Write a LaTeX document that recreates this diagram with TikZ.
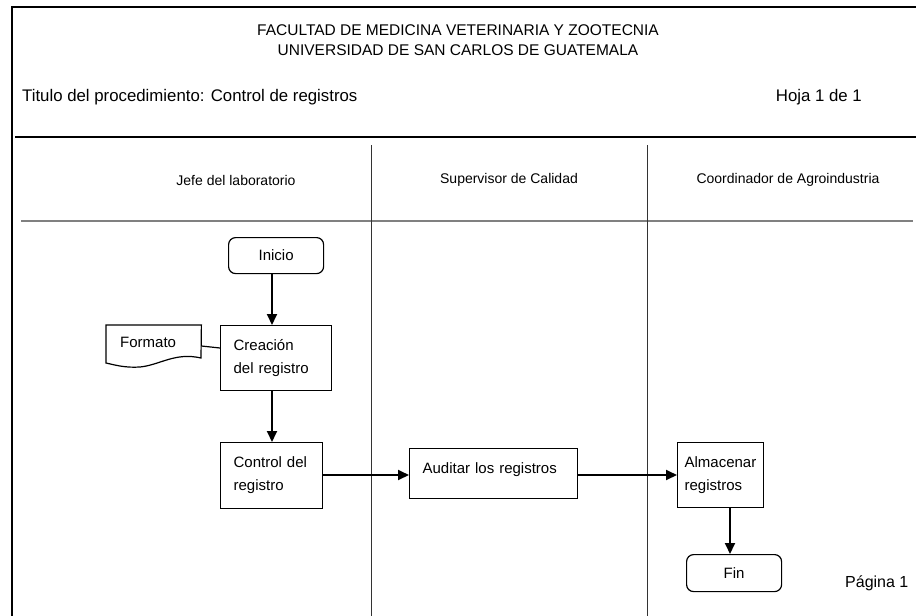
\documentclass[tikz,border=0pt]{standalone}
\usepackage{fontspec}
\setmainfont{Liberation Sans}
\usetikzlibrary{arrows.meta}
\begin{document}
\begin{tikzpicture}[x=1pt,y=-1pt,
  frame/.style={line width=2.4pt},
  lane/.style={line width=0.8pt,black!80},
  boxfont/.style={font=\fontsize{15}{23}\selectfont},
  procbox/.style={draw,line width=1.2pt,rectangle,anchor=north west,align=left,inner xsep=13pt,boxfont},
  termbox/.style={draw,line width=1.2pt,rectangle,rounded corners=7pt,anchor=north west,align=center,boxfont},
  flow/.style={line width=1.8pt,-{Triangle[length=11pt,width=10pt]}},
  hdr/.style={font=\fontsize{15.5}{18}\selectfont},
  ttl/.style={font=\fontsize{16.8}{20}\selectfont},
  lanehdr/.style={font=\fontsize{14}{16}\selectfont}]
\useasboundingbox (0,0) rectangle (916,616);
% frame
\draw[frame] (12,616) -- (12,7) -- (916,7);
\draw[frame] (15,137) -- (916,137);
\draw[line width=2.2pt,black!50] (21,221) -- (913,221);
\draw[lane] (371,145) -- (371,616);
\draw[lane] (647,145) -- (647,616);
% header texts
\node[hdr] (t1) at (458,30) {FACULTAD DE MEDICINA VETERINARIA Y ZOOTECNIA};
\node[hdr] (t2) at (458,50) {UNIVERSIDAD DE SAN CARLOS DE GUATEMALA};
\node[ttl,anchor=west,inner xsep=0pt] (t3) at (22,97) {Titulo del procedimiento: Control de registros};
\node[ttl,anchor=east,inner xsep=0pt] (t4) at (862,97) {Hoja 1 de 1};
\node[lanehdr] (l1) at (236,180) {Jefe del laboratorio};
\node[lanehdr] (l2) at (509,180) {Supervisor de Calidad};
\node[lanehdr] (l3) at (788,180) {Coordinador de Agroindustria};
\node[font=\fontsize{16}{18}\selectfont,anchor=west,inner xsep=0pt] (pg) at (845,583) {Página 1};
% nodes
\node[termbox,minimum width=95pt,minimum height=36pt] (ini) at (228,237) {Inicio};
\node[procbox,minimum width=111pt,minimum height=65pt,text width=85pt] (cre) at (220,325) {Creación\\del registro};
\node[procbox,minimum width=102pt,minimum height=66pt,text width=76pt] (ctl) at (220,442) {Control del\\registro};
\node[procbox,minimum width=168pt,minimum height=50pt,text width=142pt,text depth=11pt] (aud) at (409,448) {Auditar los registros};
\node[procbox,minimum width=85pt,minimum height=65pt,text width=72pt,inner xsep=7pt] (alm) at (677,442) {Almacenar\\registros};
\node[termbox,minimum width=95pt,minimum height=37pt] (fin) at (686,554) {Fin};
% document shape
\node[anchor=north west,minimum width=95pt,minimum height=42pt,inner sep=0pt] (fmt) at (106,325) {};
\node[boxfont,anchor=west,inner xsep=0pt] (fmtt) at (120,342) {Formato};
\draw[line width=1.2pt] (fmt.north west) -- (fmt.north east) -- (201,358)
  .. controls (175,352) and (160,365) .. (140,367)
  .. controls (125,368) and (115,365) .. (106,363) -- cycle;
% connectors
\draw[line width=1.2pt] (fmt.east |- 0,346) -- (cre.west |- 0,348);
\draw[flow] (ini.south -| 272,0) -- (cre.north -| 272,0);
\draw[flow] (cre.south -| 272,0) -- (ctl.north -| 272,0);
\draw[flow] (ctl.east |- 0,475) -- (aud.west |- 0,475);
\draw[flow] (aud.east |- 0,475) -- (alm.west |- 0,475);
\draw[flow] (alm.south -| 730,0) -- (fin.north -| 730,0);
\end{tikzpicture}
\end{document}
